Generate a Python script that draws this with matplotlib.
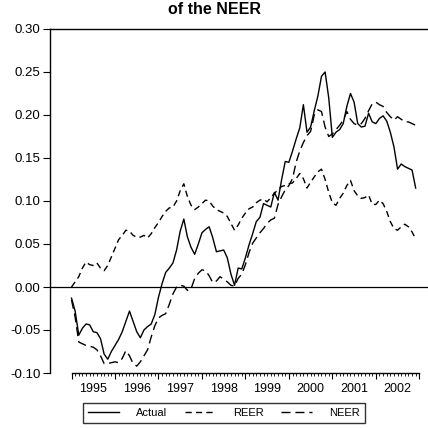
import matplotlib
matplotlib.use("Agg")
import matplotlib.pyplot as plt
import matplotlib.transforms as mtransforms
import numpy as np

plt.rcParams['font.family'] = ['Liberation Sans', 'DejaVu Sans']
plt.rcParams['axes.unicode_minus'] = False
plt.rcParams['lines.scale_dashes'] = False

# monthly data, 1995:01 - 2002:12
start_year = 1995
actual = [-0.013, -0.028, -0.056, -0.048, -0.043, -0.044, -0.052, -0.053, -0.060, -0.078,
          -0.084, -0.075, -0.068, -0.061, -0.052, -0.040, -0.028, -0.040, -0.052, -0.059,
          -0.050, -0.046, -0.043, -0.032, -0.012, 0.004, 0.017, 0.022, 0.028, 0.043,
          0.065, 0.079, 0.058, 0.046, 0.038, 0.050, 0.063, 0.067, 0.070, 0.057,
          0.041, 0.042, 0.043, 0.034, 0.015, 0.002, 0.022, 0.021, 0.034, 0.049,
          0.062, 0.076, 0.081, 0.097, 0.095, 0.093, 0.110, 0.101, 0.125, 0.146,
          0.145, 0.158, 0.172, 0.185, 0.212, 0.180, 0.186, 0.205, 0.222, 0.245,
          0.250, 0.220, 0.174, 0.180, 0.183, 0.190, 0.210, 0.225, 0.215, 0.190,
          0.186, 0.187, 0.202, 0.192, 0.190, 0.196, 0.199, 0.193, 0.180, 0.163,
          0.137, 0.143, 0.140, 0.138, 0.136, 0.115]
reer = [0.000, 0.006, 0.012, 0.022, 0.029, 0.026, 0.025, 0.028, 0.022, 0.019,
        0.025, 0.035, 0.045, 0.055, 0.060, 0.066, 0.065, 0.060, 0.058, 0.058,
        0.060, 0.057, 0.062, 0.069, 0.075, 0.082, 0.088, 0.092, 0.093, 0.100,
        0.112, 0.120, 0.105, 0.095, 0.090, 0.093, 0.097, 0.101, 0.100, 0.094,
        0.090, 0.088, 0.086, 0.082, 0.074, 0.066, 0.072, 0.080, 0.086, 0.091,
        0.093, 0.098, 0.101, 0.102, 0.099, 0.104, 0.109, 0.113, 0.117, 0.118,
        0.120, 0.121, 0.126, 0.132, 0.126, 0.115, 0.122, 0.128, 0.134, 0.137,
        0.125, 0.110, 0.098, 0.095, 0.103, 0.109, 0.118, 0.124, 0.112, 0.106,
        0.103, 0.104, 0.107, 0.096, 0.096, 0.101, 0.097, 0.088, 0.076, 0.068,
        0.066, 0.070, 0.073, 0.070, 0.064, 0.056]
neer = [-0.015, -0.035, -0.064, -0.066, -0.068, -0.069, -0.070, -0.073, -0.080, -0.089,
        -0.089, -0.088, -0.087, -0.088, -0.083, -0.074, -0.080, -0.089, -0.092, -0.087,
        -0.080, -0.073, -0.058, -0.045, -0.036, -0.033, -0.031, -0.020, -0.008, 0.000,
        0.002, 0.001, -0.004, -0.002, 0.010, 0.016, 0.020, 0.019, 0.013, 0.005,
        0.007, 0.012, 0.009, 0.006, 0.002, 0.001, 0.010, 0.015, 0.026, 0.040,
        0.051, 0.057, 0.063, 0.068, 0.074, 0.078, 0.080, 0.096, 0.105, 0.113,
        0.118, 0.126, 0.145, 0.158, 0.168, 0.176, 0.181, 0.200, 0.206, 0.204,
        0.186, 0.175, 0.178, 0.183, 0.188, 0.194, 0.204, 0.195, 0.190, 0.188,
        0.190, 0.196, 0.205, 0.213, 0.215, 0.212, 0.210, 0.203, 0.198, 0.194,
        0.198, 0.195, 0.192, 0.192, 0.190, 0.188]
years = list(range(1995, 2003))

t = start_year + np.arange(len(actual)) / 12.0

fig = plt.figure(figsize=(4.28, 4.29), dpi=100)
ax = fig.add_axes([50 / 428, 1 - 373 / 429, 1 - 50 / 428, (373 - 29) / 429])

ax.plot(t, actual, color='black', lw=1.0, label='Actual')
ax.plot(t, reer, color='black', lw=1.0, dashes=(4.5, 3), label='REER')
ax.plot(t, neer, color='black', lw=1.0, dashes=(6.5, 3.5), label='NEER')
ax.axhline(0, color='black', lw=0.9)

ax.set_xlim(1994.505, 2003.2)
ax.set_ylim(-0.10, 0.30)
yt = np.arange(-0.10, 0.301, 0.05)
ax.set_yticks(yt)
ax.set_yticklabels([f"{v:.2f}" for v in yt], fontsize=9.5)

# year boundaries as major ticks, months as minor ticks
ax.set_xticks(np.arange(1995, 2004))
ax.set_xticklabels([])
ax.set_xticks(start_year + np.arange(0, 97) / 12.0, minor=True)
ax.tick_params(axis='x', which='major', length=4, width=0.8, direction='out')
ax.tick_params(axis='x', which='minor', length=2, width=0.6, direction='out')
ax.tick_params(axis='y', length=5, width=0.8, direction='out', pad=2)

trans = mtransforms.blended_transform_factory(ax.transData, ax.transAxes)
for y in years:
    ax.text(y + 0.5, -0.028, str(y), transform=trans, ha='center', va='top', fontsize=9)

ax.spines['right'].set_visible(False)
ax.spines['bottom'].set_bounds(1995, 2003)
for s in ['left', 'top', 'bottom']:
    ax.spines[s].set_linewidth(1.0)

fig.text(0.5, 1 - 10 / 429, 'of the NEER', ha='center', va='center',
         fontsize=11.5, fontweight='bold')

leg = fig.legend(loc='center', bbox_to_anchor=(224 / 428, 1 - 413 / 429), ncol=3,
                 fontsize=8, frameon=True, fancybox=False, handlelength=2.8,
                 handletextpad=1.5, columnspacing=1.6, borderpad=0.45,
                 borderaxespad=0)
leg.get_frame().set_edgecolor('black')
leg.get_frame().set_linewidth(1.0)

plt.savefig('out.png', dpi=100)
